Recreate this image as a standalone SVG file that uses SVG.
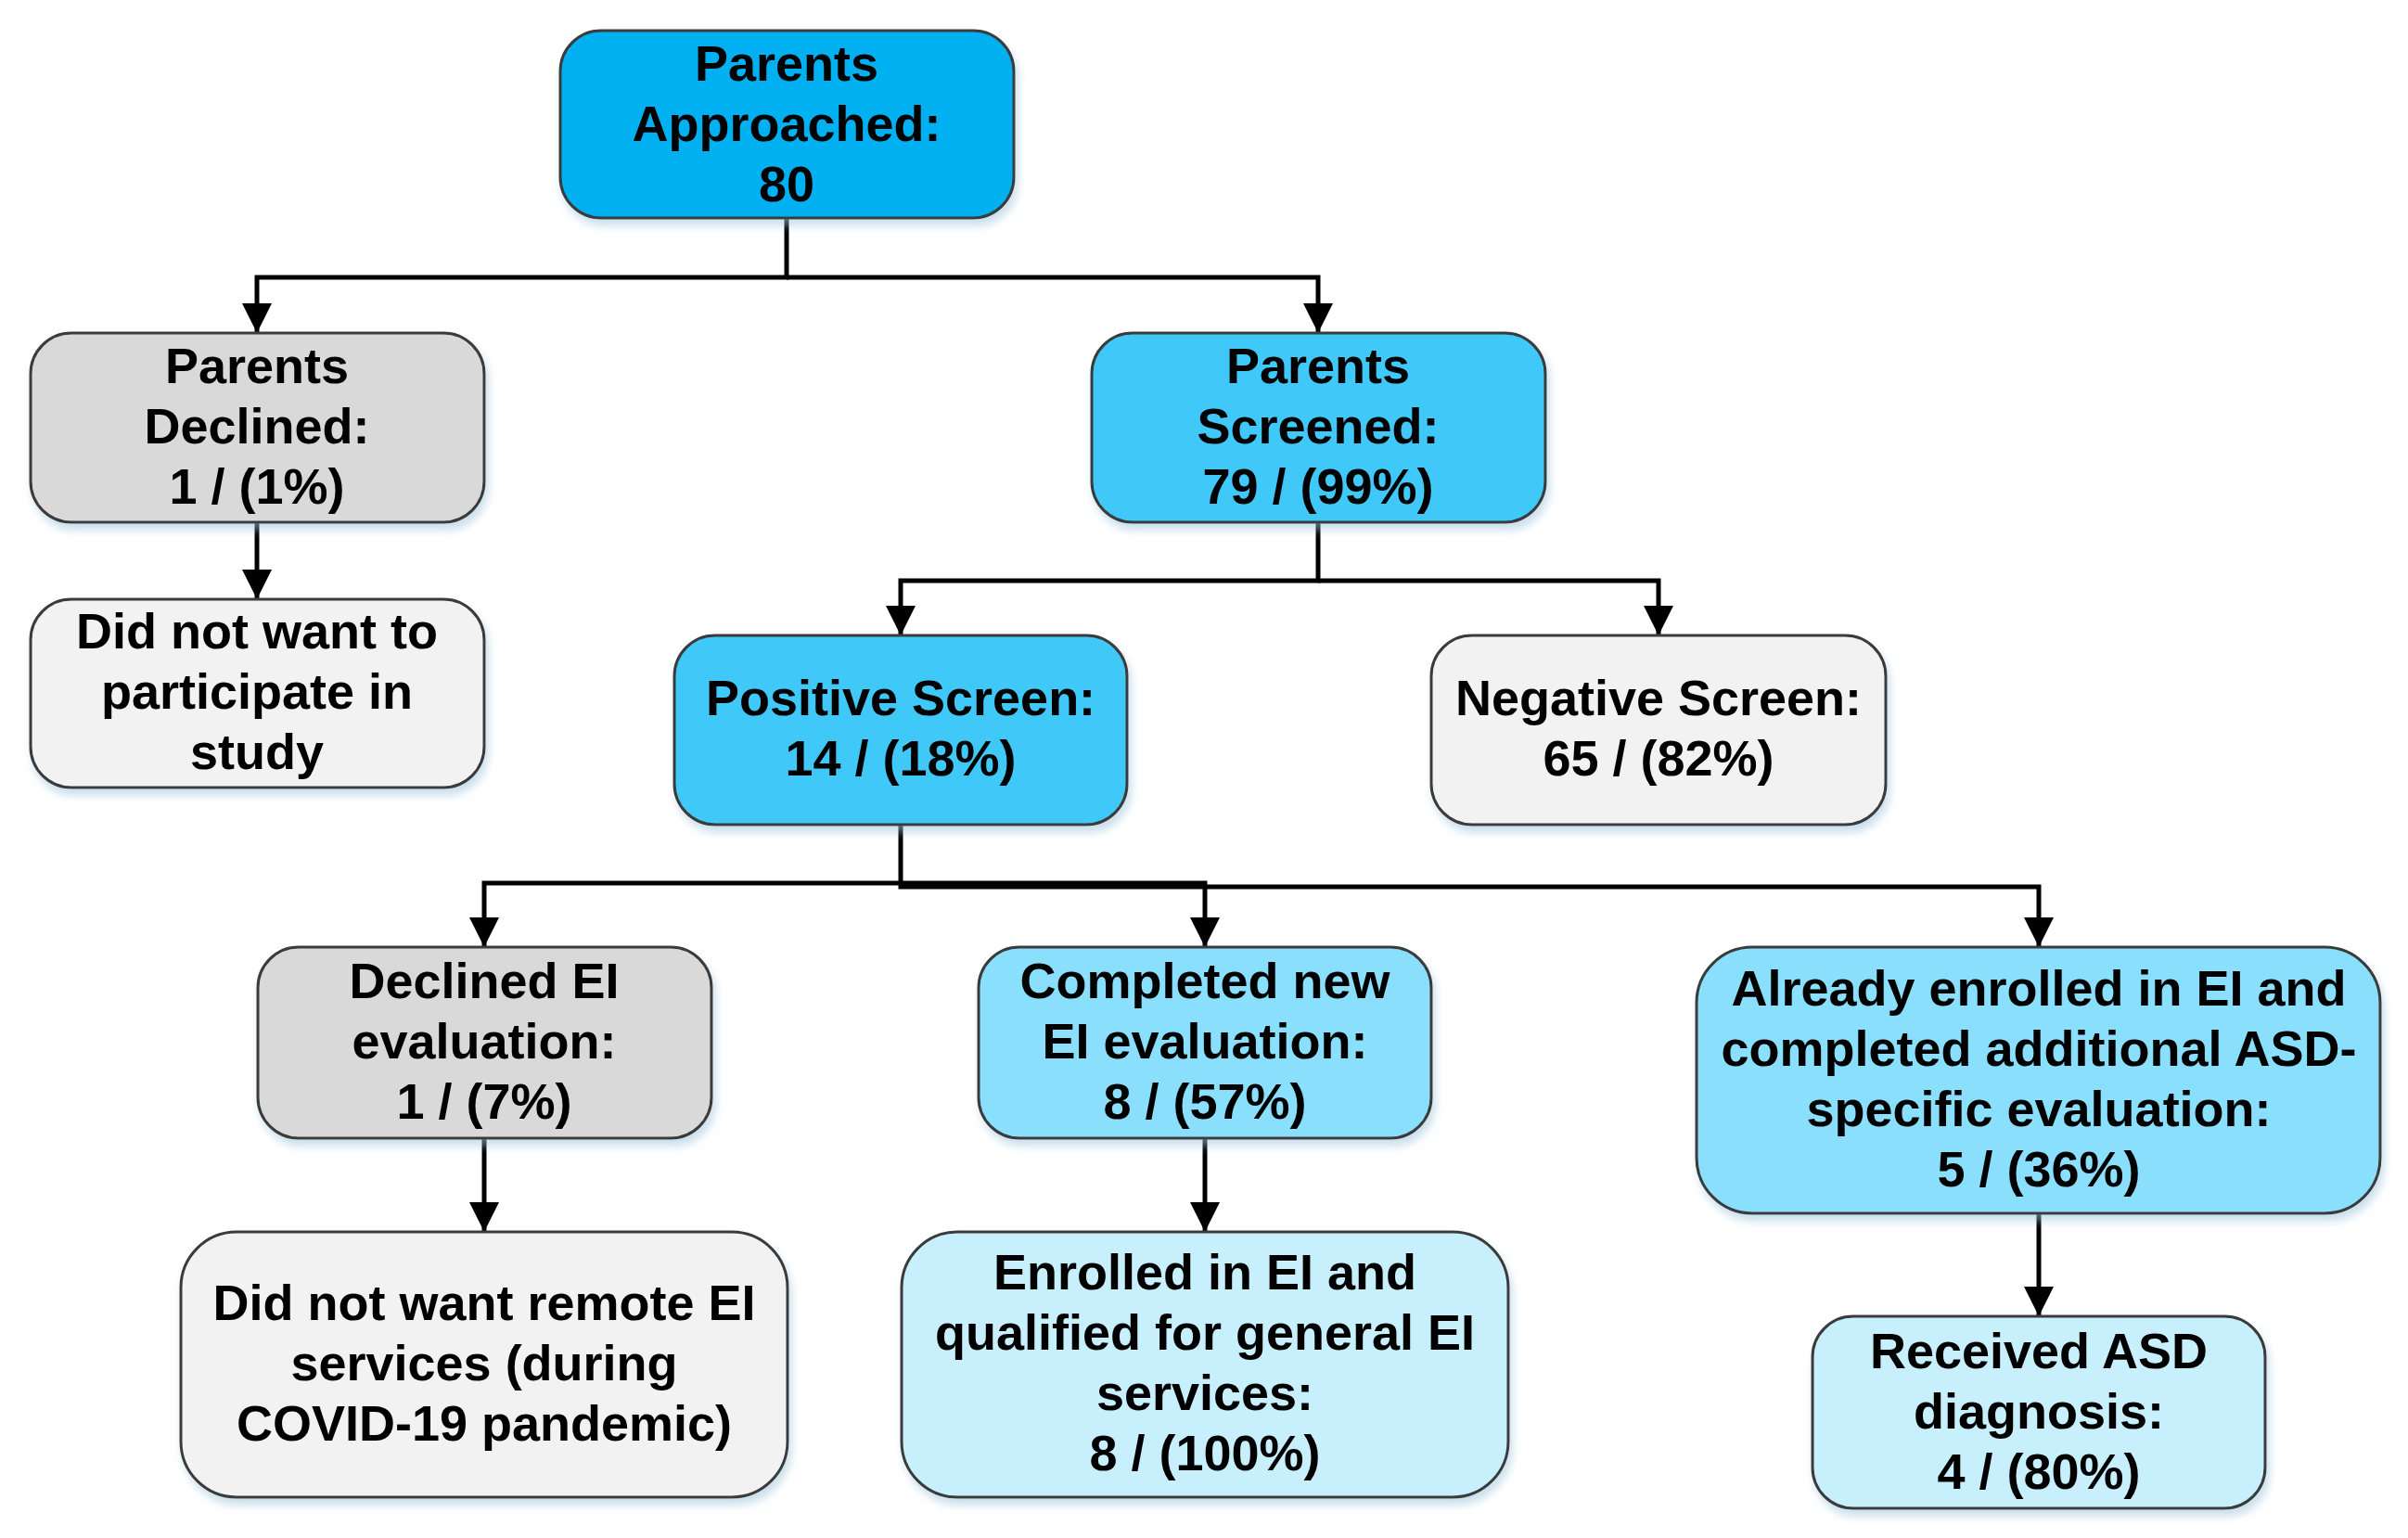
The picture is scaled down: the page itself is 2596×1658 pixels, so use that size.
<svg xmlns="http://www.w3.org/2000/svg" width="2596" height="1658" viewBox="0 0 2596 1658">
  <style>
    .box { stroke: #3a3a3a; stroke-width: 3; filter: url(#shadow); }
    .c1 { fill: #00b0f0; }
    .c2 { fill: #40c8f9; }
    .c3 { fill: #8adffc; }
    .c4 { fill: #c8effc; }
    .g1 { fill: #d9d9d9; }
    .g2 { fill: #f2f2f2; }
    text { font-family: Arial, "Liberation Sans", sans-serif; font-weight: bold; font-size: 54px; fill: #000; text-anchor: middle; }
    .conn path { fill: none; stroke: #000; stroke-width: 5; }
  </style>
  <defs>
    <filter id="shadow" x="-10%" y="-10%" width="125%" height="130%">
      <feDropShadow dx="3" dy="7" stdDeviation="5" flood-color="#9cc4dc" flood-opacity="0.55"/>
    </filter>
    <marker id="arrow" viewBox="0 0 10 10" refX="10" refY="5" markerUnits="userSpaceOnUse" markerWidth="32" markerHeight="32" orient="auto">
      <path d="M0,0 L10,5 L0,10 z" fill="#000"/>
    </marker>
  </defs>
  <rect width="2596" height="1658" fill="#fff"/>

  <g class="conn">
    <path d="M848 235 V299 H277 V359" marker-end="url(#arrow)"/>
    <path d="M848 299 H1421 V359" marker-end="url(#arrow)"/>
    <path d="M277 563 V646" marker-end="url(#arrow)"/>
    <path d="M1421 563 V626 H971 V685" marker-end="url(#arrow)"/>
    <path d="M1421 626 H1788 V685" marker-end="url(#arrow)"/>
    <path d="M971 889 V952 H522 V1021" marker-end="url(#arrow)"/>
    <path d="M971 952 H1299 V1021" marker-end="url(#arrow)"/>
    <path d="M971 952 V956 H2198 V1021" marker-end="url(#arrow)"/>
    <path d="M522 1227 V1328" marker-end="url(#arrow)"/>
    <path d="M1299 1227 V1328" marker-end="url(#arrow)"/>
    <path d="M2198 1308 V1419" marker-end="url(#arrow)"/>
  </g>

  <g id="parents-approached">
    <rect class="box c1" x="604" y="33" width="489" height="202" rx="44"/>
    <text x="848" y="87">Parents</text>
    <text x="848" y="152">Approached:</text>
    <text x="848" y="217">80</text>
  </g>

  <g id="parents-declined">
    <rect class="box g1" x="33" y="359" width="489" height="204" rx="44"/>
    <text x="277" y="413">Parents</text>
    <text x="277" y="478">Declined:</text>
    <text x="277" y="543">1 / (1%)</text>
  </g>

  <g id="parents-screened">
    <rect class="box c2" x="1177" y="359" width="489" height="204" rx="44"/>
    <text x="1421" y="413">Parents</text>
    <text x="1421" y="478">Screened:</text>
    <text x="1421" y="543">79 / (99%)</text>
  </g>

  <g id="did-not-participate">
    <rect class="box g2" x="33" y="646" width="489" height="203" rx="44"/>
    <text x="277" y="699">Did not want to</text>
    <text x="277" y="764">participate in</text>
    <text x="277" y="829">study</text>
  </g>

  <g id="positive-screen">
    <rect class="box c2" x="727" y="685" width="488" height="204" rx="44"/>
    <text x="971" y="771">Positive Screen:</text>
    <text x="971" y="836">14 / (18%)</text>
  </g>

  <g id="negative-screen">
    <rect class="box g2" x="1543" y="685" width="490" height="204" rx="44"/>
    <text x="1788" y="771">Negative Screen:</text>
    <text x="1788" y="836">65 / (82%)</text>
  </g>

  <g id="declined-ei">
    <rect class="box g1" x="278" y="1021" width="489" height="206" rx="44"/>
    <text x="522" y="1076">Declined EI</text>
    <text x="522" y="1141">evaluation:</text>
    <text x="522" y="1206">1 / (7%)</text>
  </g>

  <g id="completed-new-ei">
    <rect class="box c3" x="1055" y="1021" width="488" height="206" rx="44"/>
    <text x="1299" y="1076">Completed new</text>
    <text x="1299" y="1141">EI evaluation:</text>
    <text x="1299" y="1206">8 / (57%)</text>
  </g>

  <g id="already-enrolled">
    <rect class="box c3" x="1829" y="1021" width="737" height="287" rx="60"/>
    <text x="2198" y="1084">Already enrolled in EI and</text>
    <text x="2198" y="1149">completed additional ASD-</text>
    <text x="2198" y="1214">specific evaluation:</text>
    <text x="2198" y="1279">5 / (36%)</text>
  </g>

  <g id="no-remote-ei">
    <rect class="box g2" x="195" y="1328" width="654" height="286" rx="60"/>
    <text x="522" y="1423">Did not want remote EI</text>
    <text x="522" y="1488">services (during</text>
    <text x="522" y="1553">COVID-19 pandemic)</text>
  </g>

  <g id="enrolled-general-ei">
    <rect class="box c4" x="972" y="1328" width="654" height="286" rx="60"/>
    <text x="1299" y="1390">Enrolled in EI and</text>
    <text x="1299" y="1455">qualified for general EI</text>
    <text x="1299" y="1520">services:</text>
    <text x="1299" y="1585">8 / (100%)</text>
  </g>

  <g id="received-asd">
    <rect class="box c4" x="1954" y="1419" width="488" height="207" rx="44"/>
    <text x="2198" y="1475">Received ASD</text>
    <text x="2198" y="1540">diagnosis:</text>
    <text x="2198" y="1605">4 / (80%)</text>
  </g>
</svg>
